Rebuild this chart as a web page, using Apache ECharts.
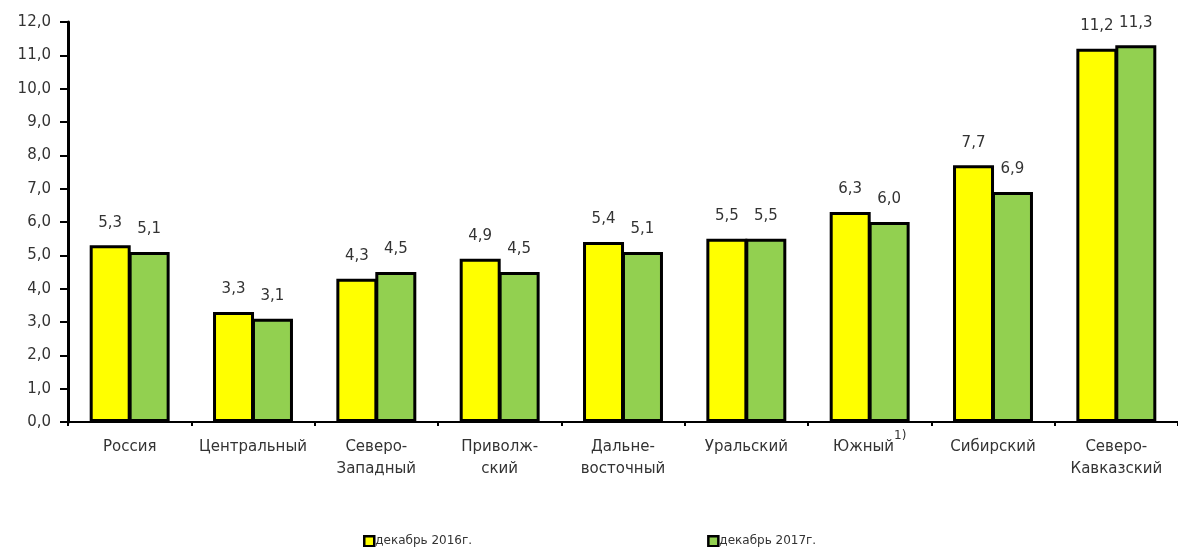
<!DOCTYPE html>
<html>
<head>
<meta charset="utf-8">
<script src="https://cdn.jsdelivr.net/npm/echarts@6/dist/echarts.min.js"></script>
<style>
html, body { margin: 0; padding: 0; background: #fff; }
#chart { width: 1178px; height: 547px; }
</style>
</head>
<body>
<div id="chart"></div>
<script>
var REGIONS = ['Россия', 'Центральный', 'Северо-\nЗападный', 'Приволж-\nский', 'Дальне-\nвосточный',
	'Уральский', 'Южный', 'Сибирский', 'Северо-\nКавказский'];
var DEC_2016 = [5.3, 3.3, 4.3, 4.9, 5.4, 5.5, 6.3, 7.7, 11.2];
var DEC_2017 = [5.1, 3.1, 4.5, 4.5, 5.1, 5.5, 6.0, 6.9, 11.3];
var SERIES_NAMES = ['декабрь 2016г.', 'декабрь 2017г.'];

var FONT = 'DejaVu Sans';

function fmt(v) {
	return v.toFixed(1).replace('.', ',');
}

var myChart = echarts.init(document.getElementById('chart'));

function barSeries(name, data, color) {
	return {
		name: name,
		type: 'bar',
		data: data,
		barWidth: 41,
		barGap: '-5%',
		itemStyle: { color: color, borderColor: '#000', borderWidth: 3 },
		label: {
			show: true,
			position: 'top',
			distance: 15,
			color: '#333',
			fontFamily: FONT,
			fontSize: 15,
			formatter: function (p) { return fmt(p.value); }
		}
	};
}

myChart.setOption({
	animation: false,
	textStyle: { fontFamily: FONT },
	grid: { left: 68, top: 22, width: 1122, height: 400, containLabel: false },
	legend: {
		top: 535,
		left: 363,
		padding: 0,
		itemGap: 235,
		itemWidth: 10,
		itemHeight: 10,
		icon: 'rect',
		data: SERIES_NAMES,
		itemStyle: { borderWidth: 2.5, borderColor: '#000' },
		textStyle: { fontFamily: FONT, fontSize: 12, color: '#333', padding: [0, 0, 0, -4] }
	},
	xAxis: {
		type: 'category',
		data: REGIONS,
		axisLine: { lineStyle: { color: '#000', width: 2 } },
		axisTick: { show: true, length: 4, lineStyle: { color: '#000', width: 2 } },
		axisLabel: {
			color: '#333',
			fontFamily: FONT,
			fontSize: 15,
			margin: 14,
			lineHeight: 22,
			interval: 0,
			formatter: function (v) {
				return v === 'Южный' ? 'Южный{sup|1)}' : v;
			},
			rich: {
				sup: { fontFamily: FONT, fontSize: 12, color: '#333', verticalAlign: 'bottom', padding: [0, 0, 16, 0] }
			}
		}
	},
	yAxis: {
		type: 'value',
		min: 0,
		max: 12,
		interval: 1,
		splitLine: { show: false },
		axisLine: { show: true, lineStyle: { color: '#000', width: 3 } },
		axisTick: { show: true, length: 8, lineStyle: { color: '#000', width: 2 } },
		axisLabel: {
			color: '#333',
			fontFamily: FONT,
			fontSize: 15,
			margin: 17,
			formatter: function (v) { return fmt(v); }
		}
	},
	series: [
		barSeries(SERIES_NAMES[0], DEC_2016, '#ffff00'),
		barSeries(SERIES_NAMES[1], DEC_2017, '#92d050')
	]
});
</script>
</body>
</html>
